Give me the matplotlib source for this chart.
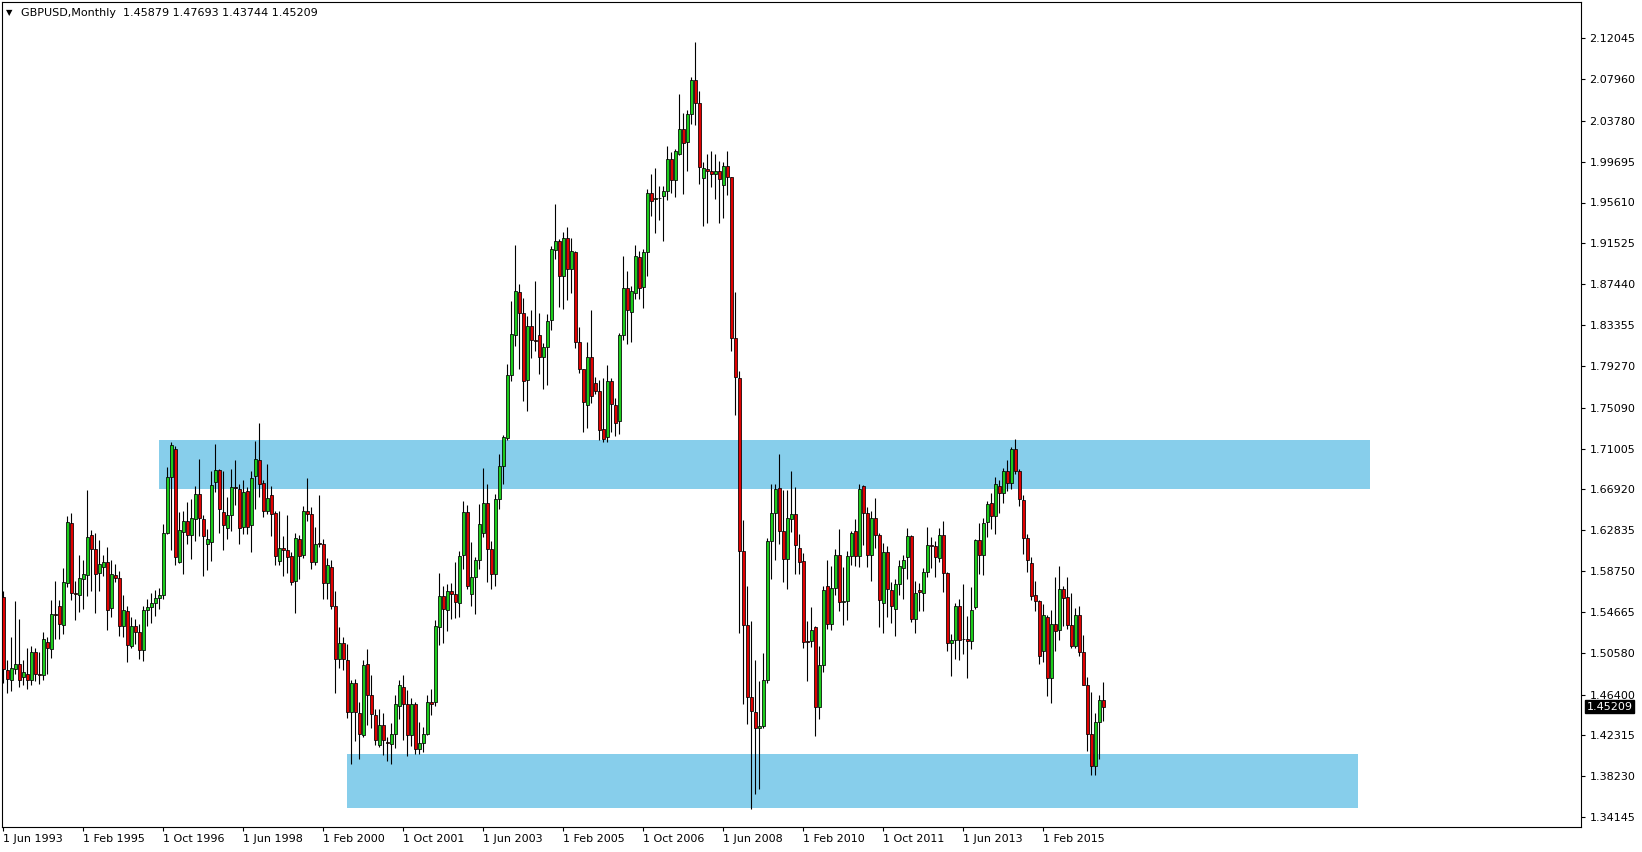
import pandas as pd
import matplotlib
matplotlib.use("Agg")
import matplotlib.pyplot as plt
from matplotlib.patches import Rectangle

# GBPUSD monthly candles, first bar = 1 Jun 1993
first_month = "1993-06-01"

opens = [
    1.562, 1.489, 1.479, 1.490, 1.495, 1.482, 1.485, 1.479, 1.507, 1.485,
    1.484, 1.517, 1.510, 1.545, 1.553, 1.534, 1.576, 1.636, 1.566, 1.564,
    1.580, 1.584, 1.624, 1.610, 1.586, 1.592, 1.597, 1.551, 1.584, 1.581,
    1.533, 1.548, 1.513, 1.533, 1.527, 1.509, 1.549, 1.552, 1.556, 1.561,
    1.564, 1.626, 1.682, 1.710, 1.597, 1.627, 1.638, 1.624, 1.640, 1.665,
    1.640, 1.615, 1.617, 1.677, 1.689, 1.647, 1.631, 1.644, 1.672, 1.670,
    1.632, 1.668, 1.634, 1.683, 1.699, 1.676, 1.648, 1.664, 1.646, 1.598,
    1.611, 1.609, 1.603, 1.578, 1.620, 1.604, 1.648, 1.645, 1.597, 1.616,
    1.615, 1.576, 1.592, 1.553, 1.500, 1.516, 1.499, 1.447, 1.476, 1.446,
    1.424, 1.495, 1.464, 1.444, 1.414, 1.434, 1.417, 1.415, 1.425, 1.453,
    1.472, 1.455, 1.424, 1.455, 1.410, 1.416, 1.425, 1.457, 1.457, 1.532,
    1.563, 1.549, 1.568, 1.565, 1.556, 1.604, 1.647, 1.565, 1.582, 1.599,
    1.626, 1.656, 1.610, 1.585, 1.660, 1.693, 1.721, 1.784, 1.824, 1.867,
    1.846, 1.779, 1.833, 1.819, 1.824, 1.802, 1.812, 1.839, 1.909, 1.918,
    1.883, 1.921, 1.890, 1.907, 1.817, 1.790, 1.754, 1.802, 1.776, 1.768,
    1.730, 1.722, 1.778, 1.754, 1.738, 1.824, 1.871, 1.847, 1.866, 1.902,
    1.872, 1.907, 1.966, 1.960, 1.961, 1.963, 1.968, 2.000, 1.979, 2.005,
    2.030, 2.017, 2.045, 2.079, 2.056, 1.981, 1.990, 1.988, 1.985, 1.988,
    1.974, 1.993, 1.982, 1.821, 1.781, 1.608, 1.534, 1.462, 1.447, 1.431,
    1.433, 1.479, 1.618, 1.646, 1.671, 1.628, 1.600, 1.640, 1.645, 1.611,
    1.598, 1.518, 1.518, 1.532, 1.452, 1.494, 1.573, 1.535, 1.571, 1.604,
    1.557, 1.558, 1.603, 1.628, 1.603, 1.673, 1.646, 1.604, 1.641, 1.624,
    1.556, 1.607, 1.569, 1.550, 1.575, 1.591, 1.602, 1.623, 1.540, 1.569,
    1.566, 1.587, 1.614, 1.613, 1.601, 1.624, 1.586, 1.516, 1.519, 1.553,
    1.520, 1.520, 1.518, 1.552, 1.619, 1.604, 1.637, 1.656, 1.643, 1.673,
    1.666, 1.688, 1.676, 1.710, 1.688, 1.659, 1.621, 1.596, 1.564, 1.558,
    1.508, 1.542, 1.481, 1.535, 1.529, 1.570, 1.562, 1.534, 1.513, 1.544,
    1.507, 1.474, 1.425, 1.393, 1.437, 1.45879,
]
highs = [
    1.568, 1.499, 1.522, 1.558, 1.540, 1.499, 1.511, 1.513, 1.511, 1.507,
    1.527, 1.522, 1.559, 1.578, 1.559, 1.591, 1.643, 1.646, 1.578, 1.604,
    1.599, 1.669, 1.629, 1.626, 1.619, 1.604, 1.612, 1.599, 1.595, 1.588,
    1.564, 1.553, 1.542, 1.540, 1.535, 1.553, 1.560, 1.566, 1.569, 1.571,
    1.635, 1.692, 1.717, 1.713, 1.647, 1.648, 1.657, 1.660, 1.673, 1.700,
    1.644, 1.630, 1.688, 1.715, 1.690, 1.688, 1.662, 1.690, 1.699, 1.675,
    1.679, 1.672, 1.688, 1.718, 1.736, 1.679, 1.695, 1.673, 1.648, 1.648,
    1.623, 1.644, 1.607, 1.626, 1.624, 1.653, 1.681, 1.652, 1.632, 1.664,
    1.620, 1.601, 1.599, 1.568, 1.532, 1.522, 1.515, 1.479, 1.480, 1.457,
    1.499, 1.510, 1.484, 1.450, 1.450, 1.446, 1.422, 1.436, 1.464, 1.479,
    1.484, 1.469, 1.461, 1.457, 1.437, 1.432, 1.464, 1.470, 1.539, 1.586,
    1.573, 1.575, 1.576, 1.597, 1.608, 1.658, 1.654, 1.617, 1.602, 1.655,
    1.691, 1.675, 1.618, 1.665, 1.705, 1.724, 1.795, 1.858, 1.914, 1.875,
    1.861, 1.843, 1.849, 1.878, 1.846, 1.816, 1.845, 1.913, 1.955, 1.920,
    1.927, 1.932, 1.921, 1.908, 1.832, 1.790, 1.817, 1.849, 1.782, 1.779,
    1.781, 1.794, 1.781, 1.761, 1.826, 1.903, 1.888, 1.873, 1.914, 1.908,
    1.910, 1.970, 1.985, 1.991, 1.973, 1.973, 2.013, 2.007, 2.010, 2.065,
    2.046, 2.049, 2.082, 2.117, 2.068, 1.997, 2.005, 2.008, 2.005, 1.998,
    1.997, 2.008, 1.982, 1.867, 1.788, 1.639, 1.573, 1.538, 1.499, 1.478,
    1.506, 1.621, 1.675, 1.675, 1.705, 1.669, 1.669, 1.688, 1.672, 1.625,
    1.606, 1.538, 1.552, 1.533, 1.513, 1.573, 1.599, 1.593, 1.610, 1.630,
    1.592, 1.608, 1.628, 1.640, 1.675, 1.674, 1.652, 1.648, 1.661, 1.626,
    1.616, 1.613, 1.577, 1.580, 1.599, 1.604, 1.631, 1.624, 1.578, 1.576,
    1.591, 1.632, 1.622, 1.618, 1.631, 1.638, 1.587, 1.525, 1.556, 1.560,
    1.575, 1.543, 1.572, 1.620, 1.636, 1.641, 1.658, 1.666, 1.682, 1.679,
    1.691, 1.699, 1.712, 1.720, 1.690, 1.664, 1.625, 1.602, 1.578, 1.559,
    1.555, 1.544, 1.549, 1.582, 1.593, 1.573, 1.582, 1.566, 1.551, 1.553,
    1.524, 1.482, 1.467, 1.446, 1.464, 1.47693,
]
lows = [
    1.476, 1.466, 1.468, 1.485, 1.472, 1.474, 1.470, 1.474, 1.478, 1.475,
    1.479, 1.485, 1.501, 1.520, 1.520, 1.525, 1.572, 1.559, 1.539, 1.547,
    1.550, 1.563, 1.568, 1.546, 1.568, 1.583, 1.529, 1.542, 1.577, 1.523,
    1.522, 1.497, 1.511, 1.515, 1.500, 1.498, 1.533, 1.536, 1.543, 1.550,
    1.560, 1.625, 1.609, 1.594, 1.596, 1.585, 1.615, 1.600, 1.618, 1.623,
    1.583, 1.589, 1.598, 1.667, 1.626, 1.609, 1.620, 1.628, 1.654, 1.615,
    1.625, 1.625, 1.607, 1.650, 1.662, 1.642, 1.645, 1.623, 1.594, 1.594,
    1.583, 1.586, 1.574, 1.546, 1.580, 1.601, 1.638, 1.590, 1.594, 1.612,
    1.560, 1.560, 1.550, 1.466, 1.491, 1.489, 1.441, 1.395, 1.418, 1.400,
    1.422, 1.434, 1.431, 1.414, 1.412, 1.404, 1.398, 1.395, 1.411, 1.440,
    1.419, 1.403, 1.413, 1.405, 1.405, 1.407, 1.424, 1.444, 1.453, 1.514,
    1.516, 1.528, 1.540, 1.541, 1.542, 1.590, 1.570, 1.553, 1.545, 1.590,
    1.622, 1.577, 1.570, 1.573, 1.650, 1.675, 1.719, 1.778, 1.813, 1.790,
    1.758, 1.748, 1.801, 1.808, 1.785, 1.770, 1.774, 1.829, 1.900, 1.852,
    1.850, 1.859, 1.866, 1.811, 1.786, 1.727, 1.731, 1.756, 1.765, 1.719,
    1.717, 1.717, 1.727, 1.723, 1.725, 1.819, 1.815, 1.817, 1.860, 1.860,
    1.851, 1.883, 1.943, 1.926, 1.939, 1.918, 1.959, 1.966, 1.962, 2.004,
    1.965, 1.988, 2.035, 2.034, 1.975, 1.933, 1.936, 1.972, 1.960, 1.936,
    1.941, 1.964, 1.808, 1.744, 1.526, 1.455, 1.435, 1.350, 1.365, 1.370,
    1.431, 1.476, 1.580, 1.599, 1.615, 1.577, 1.570, 1.627, 1.585, 1.585,
    1.511, 1.478, 1.512, 1.423, 1.440, 1.487, 1.530, 1.529, 1.564, 1.548,
    1.534, 1.539, 1.594, 1.593, 1.592, 1.614, 1.592, 1.578, 1.611, 1.532,
    1.526, 1.542, 1.536, 1.523, 1.564, 1.560, 1.580, 1.537, 1.526, 1.548,
    1.548, 1.582, 1.591, 1.582, 1.597, 1.567, 1.508, 1.483, 1.500, 1.499,
    1.505, 1.481, 1.510, 1.550, 1.585, 1.584, 1.622, 1.630, 1.625, 1.646,
    1.656, 1.668, 1.670, 1.685, 1.653, 1.605, 1.587, 1.559, 1.548, 1.495,
    1.497, 1.463, 1.456, 1.508, 1.519, 1.533, 1.530, 1.511, 1.511, 1.503,
    1.474, 1.408, 1.384, 1.384, 1.400, 1.43744,
]
closes = [
    1.490, 1.480, 1.491, 1.495, 1.479, 1.487, 1.479, 1.507, 1.485, 1.484,
    1.520, 1.511, 1.545, 1.544, 1.535, 1.577, 1.637, 1.566, 1.565, 1.581,
    1.585, 1.622, 1.610, 1.585, 1.595, 1.597, 1.549, 1.585, 1.581, 1.533,
    1.549, 1.514, 1.533, 1.527, 1.509, 1.549, 1.552, 1.556, 1.561, 1.564,
    1.626, 1.682, 1.714, 1.602, 1.629, 1.638, 1.624, 1.641, 1.665, 1.641,
    1.623, 1.620, 1.674, 1.689, 1.650, 1.634, 1.644, 1.672, 1.671, 1.631,
    1.667, 1.632, 1.681, 1.700, 1.675, 1.648, 1.661, 1.645, 1.603, 1.611,
    1.609, 1.602, 1.577, 1.621, 1.603, 1.648, 1.645, 1.597, 1.615, 1.615,
    1.576, 1.594, 1.553, 1.500, 1.516, 1.500, 1.447, 1.476, 1.447, 1.425,
    1.494, 1.464, 1.445, 1.419, 1.434, 1.419, 1.416, 1.425, 1.455, 1.474,
    1.455, 1.424, 1.455, 1.410, 1.416, 1.425, 1.457, 1.455, 1.533, 1.563,
    1.550, 1.568, 1.565, 1.557, 1.603, 1.647, 1.573, 1.582, 1.599, 1.635,
    1.656, 1.610, 1.585, 1.660, 1.693, 1.722, 1.784, 1.825, 1.868, 1.846,
    1.778, 1.833, 1.819, 1.818, 1.802, 1.812, 1.838, 1.910, 1.918, 1.883,
    1.921, 1.890, 1.908, 1.817, 1.790, 1.757, 1.802, 1.763, 1.768, 1.729,
    1.720, 1.778, 1.755, 1.736, 1.824, 1.871, 1.849, 1.868, 1.903, 1.871,
    1.907, 1.966, 1.958, 1.961, 1.961, 1.968, 2.000, 1.979, 2.008, 2.030,
    2.016, 2.045, 2.079, 2.056, 1.992, 1.991, 1.988, 1.985, 1.988, 1.980,
    1.993, 1.982, 1.821, 1.782, 1.608, 1.534, 1.462, 1.448, 1.431, 1.433,
    1.479, 1.618, 1.646, 1.670, 1.628, 1.600, 1.641, 1.645, 1.614, 1.597,
    1.517, 1.517, 1.529, 1.452, 1.494, 1.569, 1.535, 1.571, 1.604, 1.557,
    1.558, 1.603, 1.626, 1.603, 1.670, 1.646, 1.604, 1.641, 1.624, 1.559,
    1.607, 1.570, 1.553, 1.575, 1.593, 1.599, 1.623, 1.540, 1.566, 1.567,
    1.587, 1.614, 1.613, 1.602, 1.624, 1.586, 1.516, 1.519, 1.553, 1.519,
    1.520, 1.518, 1.549, 1.619, 1.604, 1.636, 1.655, 1.643, 1.675, 1.666,
    1.688, 1.676, 1.710, 1.688, 1.660, 1.621, 1.599, 1.563, 1.558, 1.503,
    1.544, 1.481, 1.535, 1.528, 1.570, 1.561, 1.534, 1.513, 1.544, 1.507,
    1.474, 1.425, 1.393, 1.437, 1.459, 1.45209,
]

# price scale labels on the right
y_ticks = [2.12045, 2.07960, 2.03780, 1.99695, 1.95610, 1.91525, 1.87440,
           1.83355, 1.79270, 1.75090, 1.71005, 1.66920, 1.62835, 1.58750,
           1.54665, 1.50580, 1.46400, 1.42315, 1.38230, 1.34145]

# time scale labels (every 20 bars)
x_labels = ["1 Jun 1993", "1 Feb 1995", "1 Oct 1996", "1 Jun 1998",
            "1 Feb 2000", "1 Oct 2001", "1 Jun 2003", "1 Feb 2005",
            "1 Oct 2006", "1 Jun 2008", "1 Feb 2010", "1 Oct 2011",
            "1 Jun 2013", "1 Feb 2015"]

# drawn zones: (price low, price high, start bar, end bar)
zone_low = [1.6696, 1.3506]
zone_high = [1.7186, 1.4046]
zone_start = [38.9, 85.8]
zone_end = [341.7, 338.7]

BULL = "#1ccc1c"
BEAR = "#e00000"

dates = pd.date_range(first_month, periods=len(opens), freq="MS")
df = pd.DataFrame({"open": opens, "high": highs, "low": lows, "close": closes}, index=dates)
xs = list(range(len(df)))

fig = plt.figure(figsize=(16.42, 8.52), dpi=100)
ax = fig.add_axes([2 / 1642, 25 / 852, 1579 / 1642, 825 / 852])

# zones behind the candles
for lo, hi, s, e in zip(zone_low, zone_high, zone_start, zone_end):
    ax.add_patch(Rectangle((s, lo), e - s, hi - lo, facecolor="#87ceeb",
                           edgecolor="none", zorder=1))

ax.vlines(xs, df["low"], df["high"], color="black", linewidth=0.8, zorder=2)
colors = [BULL if c >= o else BEAR for o, c in zip(df["open"], df["close"])]
bottoms = df[["open", "close"]].min(axis=1)
heights = (df["close"] - df["open"]).abs()
ax.bar(xs, heights, bottom=bottoms, width=0.62, color=colors,
       edgecolor="black", linewidth=0.55, zorder=3)

ax.set_xlim(-0.325, 394.4)
ax.set_ylim(1.3316, 2.1566)

ax.yaxis.tick_right()
ax.set_yticks(y_ticks)
ax.set_yticklabels([f"{v:.5f}" for v in y_ticks])
ax.tick_params(axis="y", direction="out", length=3, width=0.8, pad=3,
               labelsize=8, colors="black")

label_pos = [i * 20 for i in range(len(x_labels))]
ax.set_xticks(label_pos)
ax.set_xticklabels(x_labels, ha="left")
ax.tick_params(axis="x", direction="out", length=3, width=0.8, pad=2,
               labelsize=8, colors="black")

for sp in ax.spines.values():
    sp.set_linewidth(0.8)
    sp.set_color("black")

# current price tag
last = closes[-1]
ax.text(1.0035, last, f"{last:.5f}", transform=ax.get_yaxis_transform(),
        ha="left", va="center", fontsize=8, color="white",
        bbox=dict(boxstyle="square,pad=0.15", facecolor="black", edgecolor="black"))

# header
fig.text(9 / 1642, 1 - 12.5 / 852, "\u25bc", fontsize=6, ha="center", va="center")
fig.text(21 / 1642, 1 - 12.5 / 852,
         f"GBPUSD,Monthly  {opens[-1]:.5f} {highs[-1]:.5f} {lows[-1]:.5f} {closes[-1]:.5f}",
         fontsize=8, ha="left", va="center")

fig.savefig("out.png", dpi=100, facecolor="white")
